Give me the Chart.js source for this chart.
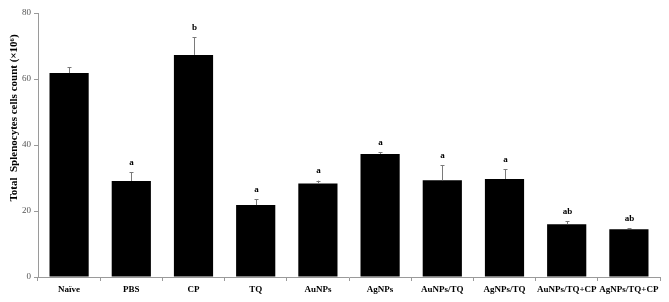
<!DOCTYPE html>
<html>
<head>
<meta charset="utf-8">
<script src="https://cdn.jsdelivr.net/npm/chart.js@4"></script>
<style>
html,body{margin:0;padding:0;background:#fff;}
#wrap{width:669px;height:302px;position:relative;}
</style>
</head>
<body>
<div id="wrap"><canvas id="c" width="669" height="302"></canvas></div>
<script>
const categories = ["Naïve","PBS","CP","TQ","AuNPs","AgNPs","AuNPs/TQ","AgNPs/TQ","AuNPs/TQ+CP","AgNPs/TQ+CP"];
const means = [61.8, 29.1, 67.3, 21.8, 28.3, 37.3, 29.3, 29.7, 16.0, 14.5];
const errors = [1.8, 2.6, 5.4, 1.8, 0.9, 0.5, 4.5, 2.9, 0.9, 0.3];
const letters = ["", "a", "b", "a", "a", "a", "a", "a", "ab", "ab"];
const yTicks = [0, 20, 40, 60, 80];
const yTitle = "Total  Splenocytes cells count (×10⁶)";

const errPlugin = {
  id: 'errbars',
  afterDatasetsDraw(chart) {
    const ctx = chart.ctx;
    const x = chart.scales.x, y = chart.scales.y;
    ctx.save();
    ctx.strokeStyle = '#7a7a7a';
    ctx.lineWidth = 1;
    ctx.fillStyle = '#000';
    ctx.font = 'bold 9px "Liberation Serif", "Times New Roman", serif';
    ctx.textAlign = 'center';
    ctx.textBaseline = 'bottom';
    means.forEach((m, i) => {
      const px = Math.round(x.getPixelForValue(i)) + 0.5;
      const y0 = y.getPixelForValue(m);
      const y1 = y.getPixelForValue(m + errors[i]);
      ctx.beginPath();
      ctx.moveTo(px, y0);
      ctx.lineTo(px, y1);
      ctx.moveTo(px - 2, Math.round(y1) + 0.5);
      ctx.lineTo(px + 2, Math.round(y1) + 0.5);
      ctx.stroke();
      if (letters[i]) ctx.fillText(letters[i], px, y1 - 5);
    });
    // rotated y-axis title
    ctx.save();
    ctx.translate(14, 118);
    ctx.rotate(-Math.PI / 2);
    ctx.font = 'bold 11px "Liberation Serif", "Times New Roman", serif';
    ctx.textBaseline = 'middle';
    ctx.textAlign = 'center';
    ctx.fillText(yTitle, 0, 0);
    ctx.restore();
    ctx.restore();
  }
};

new Chart(document.getElementById('c'), {
  type: 'bar',
  data: {
    labels: categories,
    datasets: [{
      data: means,
      backgroundColor: '#000',
      borderWidth: 0,
      barPercentage: 0.63,
      categoryPercentage: 1.0
    }]
  },
  options: {
    responsive: false,
    animation: false,
    plugins: { legend: { display: false }, tooltip: { enabled: false } },
    layout: { padding: { top: 13, right: 9, left: 0, bottom: 0 } },
    scales: {
      x: {
        offset: true,
        grid: { display: true, drawOnChartArea: false, offset: true, tickLength: 4, color: '#9a9a9a' },
        border: { color: '#9a9a9a' },
        ticks: {
          color: '#000',
          font: { family: '"Liberation Serif", "Times New Roman", serif', size: 9, weight: 'bold' },
          padding: 3,
          maxRotation: 0,
          autoSkip: false
        },
        afterFit(s) { s.height = 25; }
      },
      y: {
        min: 0, max: 80,
        afterBuildTicks(s) { s.ticks = yTicks.map(v => ({ value: v })); },
        grid: { display: true, drawOnChartArea: false, tickLength: 4, color: '#9a9a9a' },
        border: { color: '#9a9a9a' },
        ticks: {
          color: '#555',
          font: { family: '"Liberation Serif", "Times New Roman", serif', size: 9 },
          padding: 3
        },
        afterFit(s) { s.width = 38; }
      }
    }
  },
  plugins: [errPlugin]
});
</script>
</body>
</html>
